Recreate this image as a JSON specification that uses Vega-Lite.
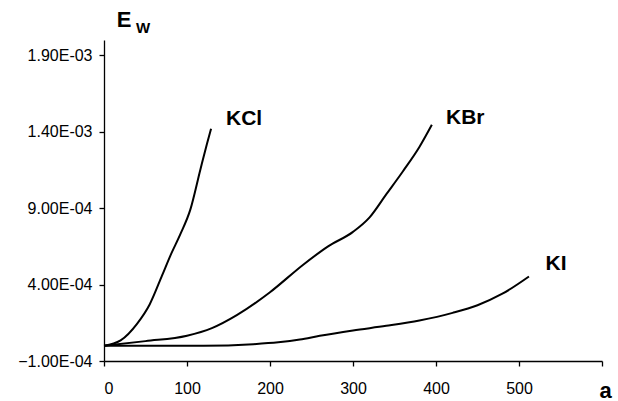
{
  "$schema": "https://vega.github.io/schema/vega-lite/v6.json",
  "width": 498,
  "height": 321,
  "autosize": "none",
  "padding": {"left": 104, "top": 40, "right": 16, "bottom": 40},
  "background": "white",
  "config": {
    "view": {"stroke": null},
    "font": "Liberation Sans",
    "axis": {
      "grid": false,
      "domainColor": "black",
      "tickColor": "black",
      "labelColor": "black",
      "titleColor": "black",
      "labelFont": "Liberation Sans",
      "titleFont": "Liberation Sans",
      "labelFontSize": 16,
      "domainWidth": 1.3,
      "tickWidth": 1.3,
      "tickSize": 5
    }
  },
  "datasets": {
    "curves": [
      {"salt": "KCl", "a": 0, "E": 0},
      {"salt": "KCl", "a": 20, "E": 0.000035},
      {"salt": "KCl", "a": 40, "E": 0.000145},
      {"salt": "KCl", "a": 55, "E": 0.00027},
      {"salt": "KCl", "a": 70, "E": 0.00046},
      {"salt": "KCl", "a": 80, "E": 0.00059},
      {"salt": "KCl", "a": 92, "E": 0.00073},
      {"salt": "KCl", "a": 104, "E": 0.00089},
      {"salt": "KCl", "a": 116, "E": 0.00115},
      {"salt": "KCl", "a": 124, "E": 0.00132},
      {"salt": "KCl", "a": 129, "E": 0.00142},
      {"salt": "KBr", "a": 0, "E": 0},
      {"salt": "KBr", "a": 50, "E": 0.00003},
      {"salt": "KBr", "a": 100, "E": 0.000065},
      {"salt": "KBr", "a": 130, "E": 0.000115},
      {"salt": "KBr", "a": 160, "E": 0.0002},
      {"salt": "KBr", "a": 200, "E": 0.00035},
      {"salt": "KBr", "a": 240, "E": 0.00053},
      {"salt": "KBr", "a": 270, "E": 0.00065},
      {"salt": "KBr", "a": 300, "E": 0.000745},
      {"salt": "KBr", "a": 320, "E": 0.00084},
      {"salt": "KBr", "a": 340, "E": 0.00099},
      {"salt": "KBr", "a": 360, "E": 0.00114},
      {"salt": "KBr", "a": 380, "E": 0.0013},
      {"salt": "KBr", "a": 395, "E": 0.001445},
      {"salt": "KI", "a": 0, "E": 0},
      {"salt": "KI", "a": 120, "E": 0},
      {"salt": "KI", "a": 180, "E": 0.00001},
      {"salt": "KI", "a": 210, "E": 0.000022},
      {"salt": "KI", "a": 236, "E": 0.00004},
      {"salt": "KI", "a": 260, "E": 0.000065},
      {"salt": "KI", "a": 300, "E": 0.0001},
      {"salt": "KI", "a": 340, "E": 0.00013},
      {"salt": "KI", "a": 380, "E": 0.000165},
      {"salt": "KI", "a": 420, "E": 0.000215},
      {"salt": "KI", "a": 450, "E": 0.000265},
      {"salt": "KI", "a": 480, "E": 0.00034},
      {"salt": "KI", "a": 512, "E": 0.000453}
    ],
    "labels": [
      {"salt": "KCl", "a": 147, "E": 0.001445},
      {"salt": "KBr", "a": 412, "E": 0.001452},
      {"salt": "KI", "a": 532, "E": 0.000493}
    ]
  },
  "layer": [
    {
      "data": {"name": "curves"},
      "mark": {"type": "line", "color": "black", "strokeWidth": 2, "interpolate": "monotone", "clip": false},
      "encoding": {
        "x": {
          "field": "a",
          "type": "quantitative",
          "scale": {"domain": [0, 600], "nice": false},
          "axis": {
            "values": [0, 100, 200, 300, 400, 500, 600],
            "labelExpr": "datum.value == 600 ? '' : datum.label",
            "labelPadding": 14,
            "title": "a",
            "titleFontSize": 22,
            "titleFontWeight": "bold",
            "titleX": 501,
            "titleY": 36,
            "titleAlign": "center",
            "titleBaseline": "alphabetic"
          }
        },
        "y": {
          "field": "E",
          "type": "quantitative",
          "scale": {"domain": [-0.0001, 0.002], "nice": false, "zero": false},
          "axis": {
            "values": [-0.0001, 0.0004, 0.0009, 0.0014, 0.0019],
            "labelExpr": "replace(format(datum.value, '.2e'), 'e-', 'E-0')",
            "labelPadding": 7,
            "title": "E",
            "titleAngle": 0,
            "titleFontSize": 22,
            "titleFontWeight": "bold",
            "titleX": 19.5,
            "titleY": -14,
            "titleAlign": "center",
            "titleBaseline": "alphabetic"
          }
        },
        "detail": {"field": "salt"}
      }
    },
    {
      "data": {"name": "labels"},
      "mark": {"type": "text", "align": "left", "baseline": "alphabetic", "fontSize": 21, "fontWeight": "bold", "font": "Liberation Sans", "color": "black", "clip": false},
      "encoding": {
        "x": {
          "field": "a",
          "type": "quantitative",
          "axis": {
            "orient": "top",
            "domain": false,
            "ticks": false,
            "labels": false,
            "title": "W",
            "titleFontSize": 15,
            "titleFontWeight": "bold",
            "titleX": 38.5,
            "titleY": -8,
            "titleAlign": "center",
            "titleBaseline": "alphabetic"
          }
        },
        "y": {"field": "E", "type": "quantitative"},
        "text": {"field": "salt"}
      }
    }
  ],
  "resolve": {"axis": {"x": "independent"}}
}
